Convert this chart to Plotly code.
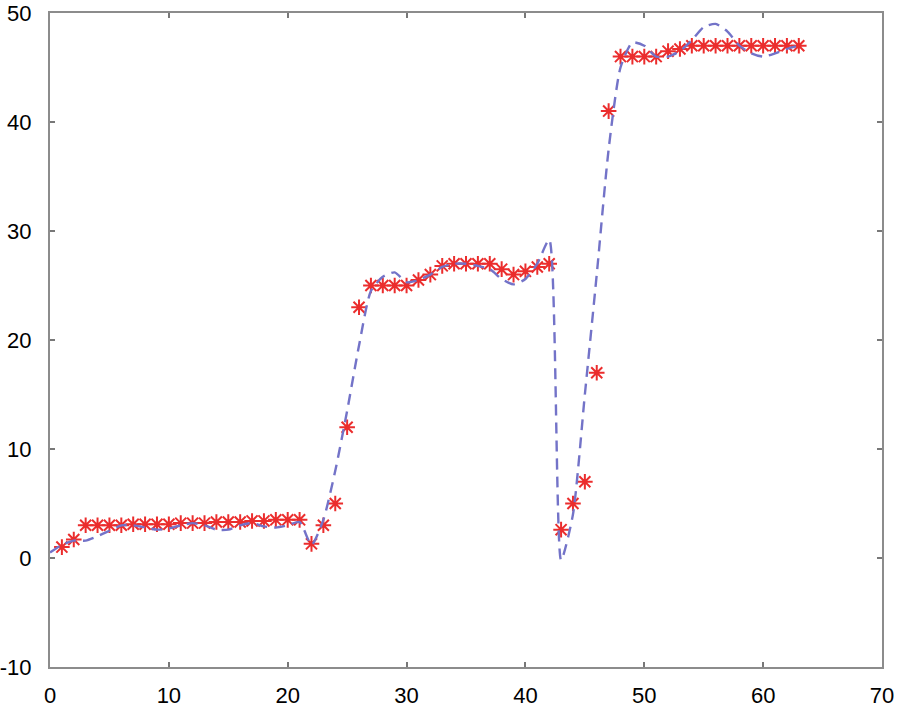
import plotly.graph_objects as go

# Measured samples (red stars)
x_meas = list(range(1, 64))
y_meas = [1.0, 1.7, 3.0, 3.0, 3.0, 3.0, 3.1, 3.1, 3.1, 3.1, 3.2, 3.2, 3.2, 3.3, 3.3, 3.3, 3.4, 3.4, 3.5, 3.5, 3.5,
          1.3, 3.0, 5.0, 12.0, 23.0, 25.0, 25.0, 25.0, 25.0, 25.5, 26.0, 26.8, 27.0, 27.0, 27.0, 27.0,
          26.5, 26.0, 26.3, 26.7, 27.0,
          2.6, 5.0, 7.0, 17.0, 41.0, 46.0, 46.0, 46.0, 46.0, 46.5, 46.7,
          47.0, 47.0, 47.0, 47.0, 47.0, 47.0, 47.0, 47.0, 47.0, 47.0]

# Fitted curve (blue dashed)
x_fit = list(range(0, 64))
y_fit = [0.5, 1.2, 1.6, 1.6, 2.0, 2.5, 3.0, 3.0, 2.8, 2.6, 2.7, 3.0, 3.2, 3.0, 2.6, 2.6, 3.0, 3.2, 2.9, 2.8, 3.0, 3.3,
         1.2, 3.5, 8.0, 13.5, 19.5, 24.5, 25.8, 26.2, 25.3, 25.5, 26.0, 26.7, 27.0, 27.0, 26.8, 26.5,
         25.6, 25.1, 25.6, 27.0, 29.2,
         -0.2, 4.0, 15.0, 26.0, 37.5, 45.0, 47.3, 47.0, 46.0, 46.0, 46.5, 47.5, 48.7, 49.0, 48.3,
         47.0, 46.3, 46.0, 46.3, 46.7, 47.0]

# Tick labels
x_ticks = [0, 10, 20, 30, 40, 50, 60, 70]
y_ticks = [-10, 0, 10, 20, 30, 40, 50]

fig = go.Figure()

fig.add_trace(go.Scatter(x=x_meas, y=y_meas, mode='markers',
                         marker=dict(symbol='asterisk-open', size=13, color='rgb(235,45,45)',
                                     line=dict(color='rgb(235,45,45)', width=2))))

fig.add_trace(go.Scatter(x=x_fit, y=y_fit, mode='lines',
                         line=dict(color='rgb(115,115,200)', width=2.4, dash='11px,7px', shape='spline', smoothing=0.6)))

axis_style = dict(showgrid=False, zeroline=False, showline=True, mirror='ticks', automargin=False,
                  linecolor='rgb(140,140,140)', linewidth=2,
                  ticks='inside', ticklen=5, tickwidth=1.5, tickcolor='rgb(120,120,120)',
                  tickfont=dict(size=22, color='black', family='Liberation Sans, Arial'))

fig.update_xaxes(range=[0, 70], tickvals=x_ticks, ticktext=[str(v) for v in x_ticks], ticklabelstandoff=8, **axis_style)
fig.update_yaxes(range=[-10, 50], tickvals=y_ticks, ticktext=[str(v) for v in y_ticks], ticklabelstandoff=12, **axis_style)

fig.update_layout(width=897, height=709, showlegend=False, plot_bgcolor='white', paper_bgcolor='white',
                  margin=dict(l=50, r=15, t=13, b=42))

# drop the default page margin so the figure sits at the window's top-left corner
fig.write_html("out.html", config={'displayModeBar': False},
               post_script="document.body.style.margin='0';document.body.style.overflow='hidden';")
